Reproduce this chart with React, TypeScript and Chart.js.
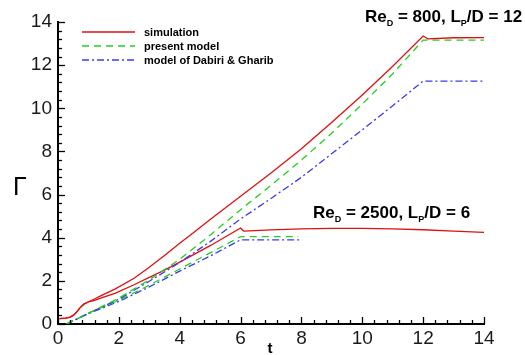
import React, { useEffect, useRef } from "react";
import { Chart, registerables } from "chart.js";

Chart.register(...registerables);

// Re_D = 800, L_P/D = 12 : simulation
const tSim800 = [0.05, 0.25, 0.4, 0.5, 0.6, 0.72, 0.85, 1.0, 1.2, 1.4, 1.87, 2.5, 3, 3.5, 4, 4.5, 5, 6, 7, 8, 9, 10, 11, 12, 12.15, 13, 14];
const sim800 = [0.25, 0.27, 0.32, 0.4, 0.53, 0.75, 0.92, 1.03, 1.16, 1.3, 1.62, 2.12, 2.63, 3.18, 3.74, 4.29, 4.84, 5.92, 7.0, 8.12, 9.35, 10.62, 11.95, 13.35, 13.22, 13.27, 13.28];
// Re_D = 2500, L_P/D = 6 : simulation
const tSim2500 = [0.05, 0.25, 0.4, 0.5, 0.6, 0.72, 0.85, 1.0, 1.2, 1.4, 1.87, 2.5, 3, 3.5, 4, 5, 6, 6.1, 7, 8, 9, 10, 11, 12, 13, 14];
const sim2500 = [0.25, 0.27, 0.32, 0.4, 0.53, 0.75, 0.92, 1.02, 1.1, 1.2, 1.42, 1.82, 2.16, 2.5, 2.87, 3.63, 4.45, 4.31, 4.36, 4.41, 4.43, 4.43, 4.41, 4.37, 4.31, 4.25];
// present model
const tPres800 = [0.28, 0.5, 1, 1.5, 2, 3, 4, 5, 6, 7, 8, 9, 10, 11, 12, 14];
const pres800 = [0.0, 0.15, 0.5, 0.85, 1.2, 2.05, 3.0, 4.12, 5.3, 6.43, 7.6, 8.85, 10.2, 11.6, 13.16, 13.16];
const tPres2500 = [0.28, 0.5, 1, 1.5, 2, 3, 4, 5, 6, 7.9];
const pres2500 = [0.0, 0.15, 0.5, 0.8, 1.1, 1.8, 2.55, 3.3, 4.05, 4.05];
// model of Dabiri & Gharib
const tDab800 = [0.28, 0.5, 1, 1.5, 2, 3, 4, 5, 6, 7, 8, 9, 10, 11, 12, 14];
const dab800 = [0.0, 0.15, 0.5, 0.82, 1.15, 1.98, 2.85, 3.82, 4.87, 5.82, 6.8, 7.9, 9.0, 10.12, 11.26, 11.26];
const tDab2500 = [0.28, 0.5, 1, 1.5, 2, 3, 4, 5, 6, 8];
const dab2500 = [0.0, 0.15, 0.48, 0.76, 1.05, 1.72, 2.45, 3.15, 3.9, 3.9];

const xTicks = [0, 2, 4, 6, 8, 10, 12, 14];
const yTicks = [0, 2, 4, 6, 8, 10, 12, 14];
const legendLabels = ["simulation", "present model", "model of Dabiri & Gharib"];

const RED = "#e01010";
const GREEN = "#22d022";
const BLUE = "#3a3af0";
const GREEN_DASH = [7, 5];
const BLUE_DASH = [7, 3, 2, 3];

const pts = (ts: number[], vs: number[]) => ts.map((t, i) => ({ x: t, y: vs[i] }));

const tickPlugin = {
  id: "innerTicks",
  afterDatasetsDraw(chart: any) {
    const ctx = chart.ctx;
    const xs = chart.scales.x;
    const ys = chart.scales.y;
    const area = chart.chartArea;
    ctx.save();
    ctx.strokeStyle = "#000";
    ctx.lineWidth = 1.3;
    for (let i = 0; i <= 35; i++) {
      const v = i * 0.4;
      const len = i % 5 === 0 ? 7 : 4;
      const px = Math.round(xs.getPixelForValue(v)) + 0.5;
      ctx.beginPath();
      ctx.moveTo(px, area.bottom);
      ctx.lineTo(px, area.bottom - len);
      ctx.stroke();
      const py = Math.round(ys.getPixelForValue(v)) + 0.5;
      ctx.beginPath();
      ctx.moveTo(area.left, py);
      ctx.lineTo(area.left + len, py);
      ctx.stroke();
    }
    ctx.restore();
  },
};

function drawRich(ctx: any, x: number, y: number, parts: [string, boolean][], size: number, subSize: number) {
  let cx = x;
  for (const [txt, sub] of parts) {
    ctx.font = `bold ${sub ? subSize : size}px "Liberation Sans", Arial, sans-serif`;
    ctx.fillText(txt, cx, sub ? y + 4 : y);
    cx += ctx.measureText(txt).width;
  }
}

const textPlugin = {
  id: "texts",
  afterDraw(chart: any) {
    const ctx = chart.ctx;
    ctx.save();
    ctx.fillStyle = "#000";
    ctx.textBaseline = "alphabetic";
    ctx.textAlign = "left";
    // legend
    const ds = chart.data.datasets;
    const rows = [32, 46, 60];
    for (let i = 0; i < 3; i++) {
      const d = ds[i];
      ctx.strokeStyle = d.borderColor;
      ctx.lineWidth = 1.4;
      ctx.setLineDash(d.borderDash || []);
      ctx.beginPath();
      ctx.moveTo(82, rows[i]);
      ctx.lineTo(135, rows[i]);
      ctx.stroke();
      ctx.setLineDash([]);
      ctx.font = 'bold 11px "Liberation Sans", Arial, sans-serif';
      ctx.fillStyle = "#000";
      ctx.fillText(legendLabels[i], 144, rows[i] + 4);
    }
    // annotations
    drawRich(ctx, 365, 22, [["Re", false], ["D", true], [" = 800, L", false], ["P", true], ["/D = 12", false]], 17, 9);
    drawRich(ctx, 313, 218, [["Re", false], ["D", true], [" = 2500, L", false], ["P", true], ["/D = 6", false]], 17, 9);
    // axis titles
    ctx.font = 'bold 15px "Liberation Sans", Arial, sans-serif';
    ctx.textAlign = "center";
    ctx.fillText("t", 270, 353);
    ctx.font = '25px "Liberation Sans", Arial, sans-serif';
    ctx.fillText("Γ", 20, 195);
    ctx.restore();
  },
};

export default function App() {
  const ref = useRef<HTMLCanvasElement>(null);
  useEffect(() => {
    document.body.style.margin = "0";
    const mk = (label: string, data: any, color: string, dash: number[]) => ({
      label,
      data,
      borderColor: color,
      backgroundColor: color,
      borderWidth: 1.3,
      borderDash: dash,
      pointRadius: 0,
      fill: false,
      tension: 0,
    });
    const chart = new Chart(ref.current!, {
      type: "line",
      data: {
        datasets: [
          mk("simulation", pts(tSim800, sim800), RED, []),
          mk("present model", pts(tPres800, pres800), GREEN, GREEN_DASH),
          mk("model of Dabiri & Gharib", pts(tDab800, dab800), BLUE, BLUE_DASH),
          mk("simulation 2500", pts(tSim2500, sim2500), RED, []),
          mk("present model 2500", pts(tPres2500, pres2500), GREEN, GREEN_DASH),
          mk("Dabiri 2500", pts(tDab2500, dab2500), BLUE, BLUE_DASH),
        ],
      },
      options: {
        animation: false,
        responsive: false,
        devicePixelRatio: 1,
        layout: { padding: { left: 0, top: 22, right: 41, bottom: 0 } },
        plugins: { legend: { display: false }, tooltip: { enabled: false } },
        scales: {
          x: {
            type: "linear",
            min: 0,
            max: 14,
            afterBuildTicks: (s: any) => { s.ticks = xTicks.map((v) => ({ value: v })); },
            afterFit: (s: any) => { s.height = 31; },
            grid: { display: false, drawTicks: false },
            border: { display: true, color: "#000", width: 2 },
            ticks: { color: "#1a1a1a", padding: 3, maxRotation: 0, font: { size: 19, family: '"Liberation Sans", Arial, sans-serif' } },
          },
          y: {
            type: "linear",
            min: 0,
            max: 14,
            afterBuildTicks: (s: any) => { s.ticks = yTicks.map((v) => ({ value: v })); },
            afterFit: (s: any) => { s.width = 58; },
            grid: { display: false, drawTicks: false },
            border: { display: true, color: "#000", width: 2 },
            ticks: { color: "#1a1a1a", padding: 6, font: { size: 19, family: '"Liberation Sans", Arial, sans-serif' } },
          },
        },
      },
      plugins: [tickPlugin, textPlugin],
    });
    return () => chart.destroy();
  }, []);
  return <canvas ref={ref} width={525} height={355} style={{ display: "block", width: 525, height: 355 }} />;
}
